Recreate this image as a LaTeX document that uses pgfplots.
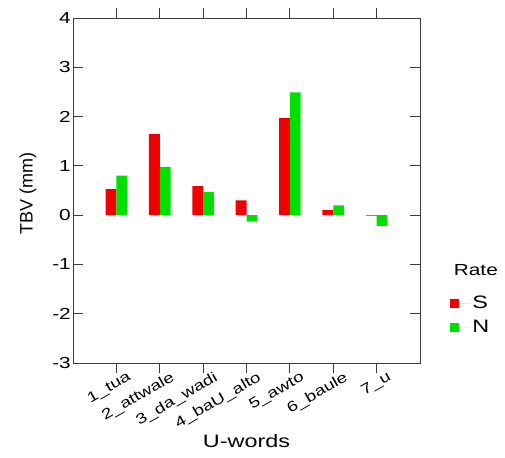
\documentclass[border=0pt]{standalone}
\usepackage{pgfplots}
\pgfplotsset{compat=1.18}
\usepackage{fontspec}
\setmainfont[FakeStretch=1.3]{Liberation Sans}
\newfontfamily\plainsans{Liberation Sans}

\definecolor{barS}{RGB}{240,0,0}
\definecolor{barN}{RGB}{0,224,0}
\definecolor{axisgray}{RGB}{60,60,60}

\begin{document}
\begin{tikzpicture}
\begin{axis}[
  at={(0,0)}, anchor=south west,
  scale only axis,
  width=347pt, height=345pt,
  clip mode=individual,
  xmin=0, xmax=8,
  ymin=-3, ymax=4,
  ytick={-3,-2,-1,0,1,2,3,4},
  xtick={1,2,3,4,5,6,7},
  xticklabels={1\_tua,2\_attwale,3\_da\_wadi,4\_baU\_alto,5\_awto,6\_baule,7\_u},
  /pgf/number format/assume math mode=true,
  tick align=inside,
  major tick length=10pt,
  axis line style={axisgray, line width=0.9pt},
  every tick/.style={axisgray, line width=0.9pt},
  yticklabel style={font=\fontsize{16}{18}\selectfont, inner sep=2pt},
  xticklabel style={font=\fontsize{14.5}{16}\selectfont, rotate=30, anchor=north east, inner sep=1pt, xshift=11pt, yshift=-2pt},
  xlabel={U-words},
  ylabel={TBV (mm)},
  xlabel style={font=\fontsize{18}{20}\selectfont, at={(axis description cs:0.5,0)}, anchor=center, yshift=-78pt},
  ylabel style={font=\plainsans\fontsize{18}{20}\selectfont, at={(axis description cs:-0.13,0.49)}, anchor=center},
  ybar=0pt, bar width=0.25,
  legend style={draw=none, fill=none, at={(axis description cs:1.087,0.20)}, anchor=north west,
    font=\fontsize{18}{20}\selectfont, row sep=6pt, inner sep=0pt},
  legend cell align=left,
  legend image code/.code={\fill[#1] (0pt,-4.5pt) rectangle (9pt,4.5pt); \path (0pt,0pt) -- (20pt,0pt);},
]
\addplot[fill=barS, draw=none] coordinates {(1,0.53) (2,1.65) (3,0.59) (4,0.30) (5,1.97) (6,0.10) (7,-0.01)};
\addplot[fill=barN, draw=none] coordinates {(1,0.80) (2,0.98) (3,0.47) (4,-0.13) (5,2.49) (6,0.20) (7,-0.22)};
\legend{S,N}
\node[font=\fontsize{16}{18}\selectfont, anchor=center] at (axis description cs:1.161,0.27) {Rate};
\end{axis}
\useasboundingbox (-73pt,-94pt) rectangle (432pt,363pt);
\end{tikzpicture}
\end{document}
